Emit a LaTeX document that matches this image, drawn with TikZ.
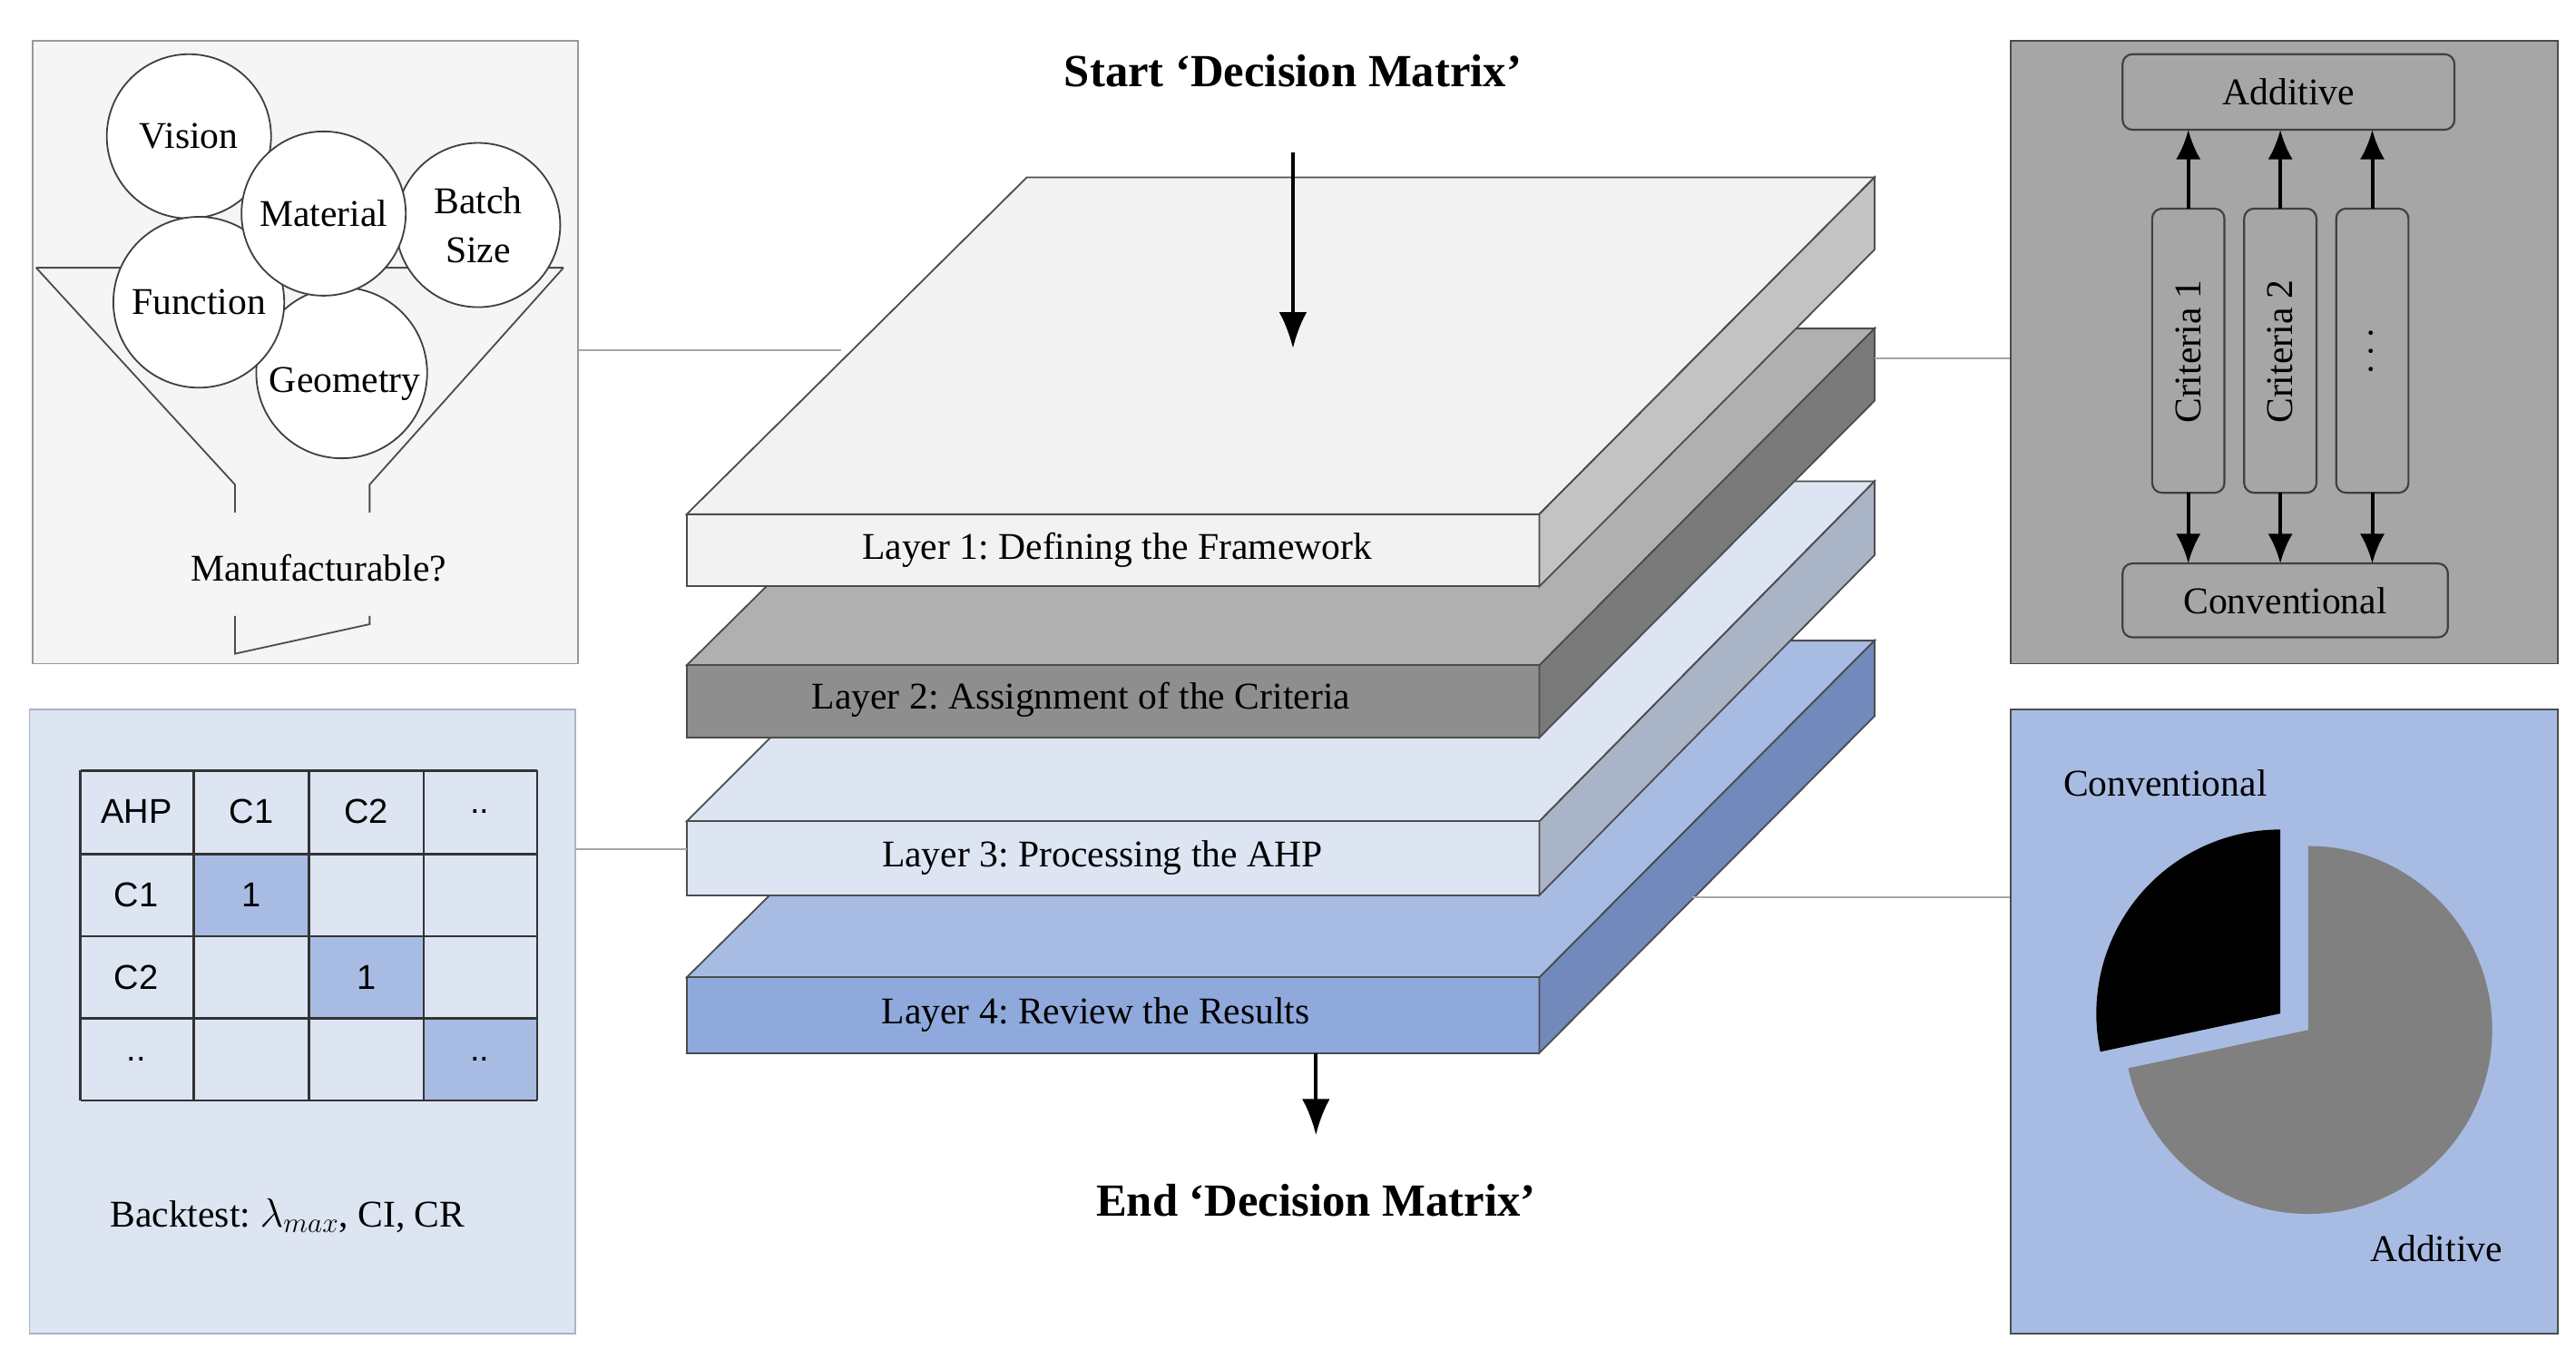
\documentclass[tikz,border=0pt]{standalone}
\usepackage{fontspec}
\setmainfont{Liberation Serif}
\newfontfamily\tabfont{Liberation Sans}
\usetikzlibrary{arrows.meta}
\frenchspacing
\begin{document}
\begin{tikzpicture}[x=1pt,y=-1pt,
 lt/.style={font=\fontsize{23}{26}\selectfont},
 ttl/.style={font=\bfseries\fontsize{28}{32}\selectfont},
 conn/.style={draw=gray!70,line width=1pt},
 arr/.style={-{Latex[length=22pt,width=17pt]},line width=2.2pt},
 sarr/.style={-{Latex[length=18pt,width=15pt]},line width=2.2pt},
 circ/.style={circle,draw=black!75,fill=white,line width=1pt,lt,inner sep=0pt},
 cell/.style={draw=black!80,line width=1.5pt},
 tt/.style={font=\tabfont\fontsize{21}{24}\selectfont}]
\useasboundingbox (0,0) rectangle (1568,833);
\fill[white] (0,0) rectangle (1568,833);
\newcommand\lay[6]{%
 \draw[black!70,line width=1pt,fill=#4] (418,#2)--(625,#1)--(1141,#1)--(937,#2)--cycle;
 \draw[black!70,line width=1pt,fill=#5] (418,#2) rectangle (937,#2+#3);
 \draw[black!70,line width=1pt,fill=#6] (937,#2)--(1141,#1)--(1141,#1+#3)--(937,#2+#3)--cycle;}
\definecolor{la}{HTML}{F2F2F2}\definecolor{lb}{HTML}{C3C3C3}
\definecolor{ma}{HTML}{B0B0B0}\definecolor{mb}{HTML}{8E8E8E}\definecolor{mc}{HTML}{7A7A7A}
\definecolor{na}{HTML}{DDE5F3}\definecolor{nb}{HTML}{A9B4C6}
\definecolor{pa}{HTML}{A8BCE3}\definecolor{pb}{HTML}{8FA9DC}\definecolor{pc}{HTML}{7189BB}
\lay{390}{595}{46}{pa}{pb}{pc}
\lay{293}{500}{45}{na}{na}{nb}
\lay{200}{405}{44}{ma}{mb}{mc}
\lay{108}{313}{44}{la}{la}{lb}
\node[lt] (l1) at (680,335) {Layer 1: Defining the Framework};
\node[lt] (l2) at (658,426) {Layer 2: Assignment of the Criteria};
\node[lt] (l3) at (671,522) {Layer 3: Processing the AHP};
\node[lt] (l4) at (667,618) {Layer 4: Review the Results};
\node[ttl] (st) at (787,43) {Start ‘Decision Matrix’};
\node[ttl] (en) at (801,731) {End ‘Decision Matrix’};
\coordinate (a1) at (787,93); \coordinate (a2) at (787,212);
\coordinate (b1) at (801,641); \coordinate (b2) at (801,691);
\draw[arr] (a1)--(a2); \draw[arr] (b1)--(b2);
\coordinate (c1a) at (352,213); \coordinate (c1b) at (512,213);
\coordinate (c2a) at (1141,218); \coordinate (c2b) at (1224,218);
\coordinate (c3a) at (350,517); \coordinate (c3b) at (418,517);
\coordinate (c4a) at (1030,546); \coordinate (c4b) at (1224,546);
\draw[conn] (c1a)--(c1b); \draw[conn] (c2a)--(c2b); \draw[conn] (c3a)--(c3b); \draw[conn] (c4a)--(c4b);
% top-left panel
\draw[gray!80,line width=1pt,fill=black!4] (20,25) rectangle (352,404);
\draw[black!70,line width=1pt] (22,163)--(343,163) (22,163)--(143,295)--(143,312) (343,163)--(225,295)--(225,312);
\draw[black!70,line width=1pt] (143,375)--(143,398)--(225,380)--(225,375);
\node[circ,minimum size=100pt] (vi) at (115,83) {Vision};
\node[circ,minimum size=100pt,align=center,font=\fontsize{23}{30}\selectfont] (bs) at (291,137) {Batch\\Size};
\node[circ,minimum size=104pt] (ge) at (208,227) {};
\node[circ,minimum size=104pt] (fu) at (121,184) {Function};
\node[circ,minimum size=100pt] (ma) at (197,130) {Material};
\node[lt] (get) at (210,234) {Geometry};
\node[lt] (mf) at (194,346) {Manufacturable?};
% top-right panel
\draw[gray!60!black,line width=1pt,fill=black!35] (1224,25) rectangle (1557,404);
\draw[black!75,line width=1.2pt,rounded corners=6pt,fill=black!35] (1292,33) rectangle (1494,79);
\node[lt] (ad) at (1393,56) {Additive};
\draw[black!75,line width=1.2pt,rounded corners=6pt,fill=black!35] (1292,343) rectangle (1490,388);
\node[lt] (cv) at (1391,366) {Conventional};
\foreach \x/\t/\n in {1332/{Criteria 1}/k1,1388/{Criteria 2}/k2,1444/{$\cdots$}/k3}{
 \draw[black!75,line width=1.2pt,rounded corners=6pt] (\x-22,127) rectangle (\x+22,300);
 \node[lt,rotate=90] (\n) at (\x,214) {\t};
 \draw[sarr] (\x,127)--(\x,79);
 \draw[sarr] (\x,300)--(\x,343);}
% bottom-left panel
\draw[nb,line width=1pt,fill=na] (18,432) rectangle (350,812);
\fill[pa] (118,520) rectangle (188,570) (188,570) rectangle (258,620) (258,620) rectangle (327,670);
\foreach \x in {49,118,188,258,327}{\draw[cell] (\x,469)--(\x,670);}
\foreach \y in {469,520,570,620,670}{\draw[cell] (49,\y)--(327,\y);}
\node[tt] at (83,494) {AHP}; \node[tt] at (153,494) {C1}; \node[tt] at (223,494) {C2}; \node[tt] at (292,494) {..};
\node[tt] at (83,545) {C1}; \node[tt] at (153,545) {1};
\node[tt] at (83,595) {C2}; \node[tt] at (223,595) {1};
\node[tt] at (83,645) {..}; \node[tt] at (292,645) {..};
\node[lt] (bt) at (175,740) {Backtest: $\lambda_{max}$, CI, CR};
% bottom-right panel
\draw[gray!60!black,line width=1pt,fill=pa] (1224,432) rectangle (1557,812);
\fill[black!50] (1405,627) -- ++(-90:112) arc[start angle=-90,end angle=168,radius=112] -- cycle;
\fill[black] (1388,617) -- ++(168:112) arc[start angle=168,end angle=270,radius=112] -- cycle;
\node[lt] (pc1) at (1318,477) {Conventional};
\node[lt] (pc2) at (1483,760) {Additive};
\end{tikzpicture}
\end{document}
